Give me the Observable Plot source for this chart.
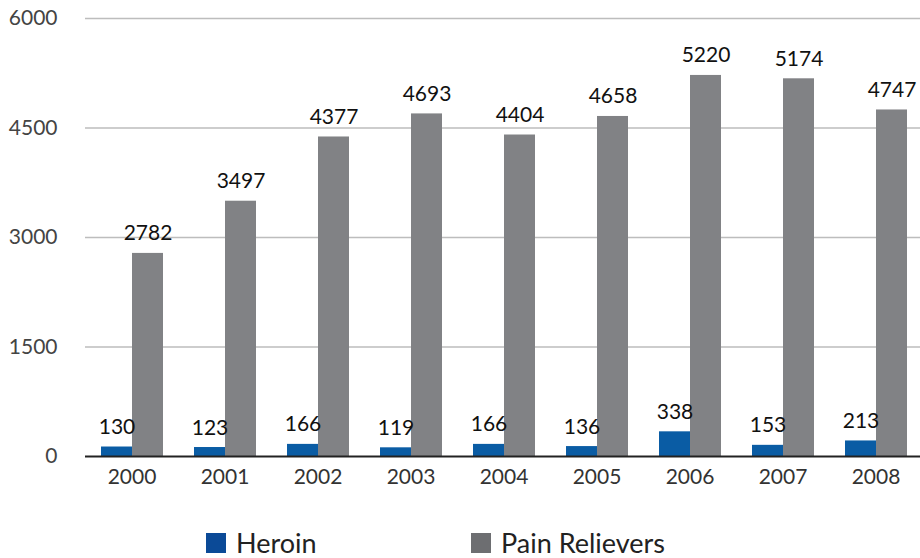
<!DOCTYPE html>
<html>
<head>
<meta charset="utf-8">
<script src="https://cdn.jsdelivr.net/npm/d3@7"></script>
<script src="https://cdn.jsdelivr.net/npm/@observablehq/plot@0.6"></script>
<style>
  html, body { margin: 0; padding: 0; background: #fff; }
  #chart { width: 920px; height: 558px; position: relative; overflow: hidden; font-family: Lato, "Open Sans", sans-serif; }
  #chart svg { display: block; }
  #legend { position: relative; height: 58px; }
  .item { position: absolute; top: 26px; height: 34px; display: flex; align-items: center; font-size: 27px; line-height: 34px; color: #222; }
  .sw { width: 20px; height: 20px; margin-right: 10px; }
</style>
</head>
<body>
<div id="chart"></div>
<script>
const years = ["2000","2001","2002","2003","2004","2005","2006","2007","2008"];
const heroin = [130, 123, 166, 119, 166, 136, 338, 153, 213];
const painRelievers = [2782, 3497, 4377, 4693, 4404, 4658, 5220, 5174, 4747];
const seriesNames = ["Heroin", "Pain Relievers"];
const yTicks = [0, 1500, 3000, 4500, 6000];
const barColors = ["#0a5ca4", "#818285"];
const legendColors = ["#0b4a97", "#6d6e71"];

const data = [];
years.forEach((yr, i) => {
  data.push({year: yr, series: seriesNames[0], value: heroin[i]});
  data.push({year: yr, series: seriesNames[1], value: painRelievers[i]});
});

const plot = Plot.plot({
  width: 920,
  height: 500,
  marginTop: 18,
  marginBottom: 44,
  marginLeft: 82,
  marginRight: 0,
  style: {fontFamily: "Lato, 'Open Sans', sans-serif", background: "#fff"},
  fx: {domain: years, range: [82, 924], paddingInner: 0, paddingOuter: 0, label: null},
  x: {domain: seriesNames, paddingInner: 0, paddingOuter: 0.46, axis: null},
  y: {domain: [0, 6000], label: null},
  color: {domain: seriesNames, range: barColors},
  marks: [
    Plot.ruleY(yTicks.filter(d => d > 0), {stroke: "#bdbdbd", strokeWidth: 1.5}),
    Plot.barY(data, {fx: "year", x: "series", y: "value", fill: "series"}),
    Plot.ruleY([0], {stroke: "#222", strokeWidth: 2}),
    Plot.text(data, {fx: "year", x: "series", y: "value", text: d => String(d.value),
      dy: -13, lineAnchor: "bottom", fontSize: 21, fill: "#111"}),
    Plot.axisY({ticks: yTicks, tickSize: 0, tickPadding: 28, fontSize: 21, fill: "#444", label: null, tickFormat: d => String(d)}),
    Plot.axisFx({anchor: "bottom", tickSize: 0, tickPadding: 13, fontSize: 21, fill: "#333", label: null})
  ]
});
document.getElementById("chart").appendChild(plot);

const legend = document.createElement("div");
legend.id = "legend";
const positions = [206, 471];
seriesNames.forEach((name, i) => {
  const item = document.createElement("div");
  item.className = "item";
  item.style.left = positions[i] + "px";
  const sw = document.createElement("div");
  sw.className = "sw";
  sw.style.background = legendColors[i];
  item.appendChild(sw);
  const t = document.createElement("span");
  t.textContent = name;
  item.appendChild(t);
  legend.appendChild(item);
});
document.getElementById("chart").appendChild(legend);
</script>
</body>
</html>
